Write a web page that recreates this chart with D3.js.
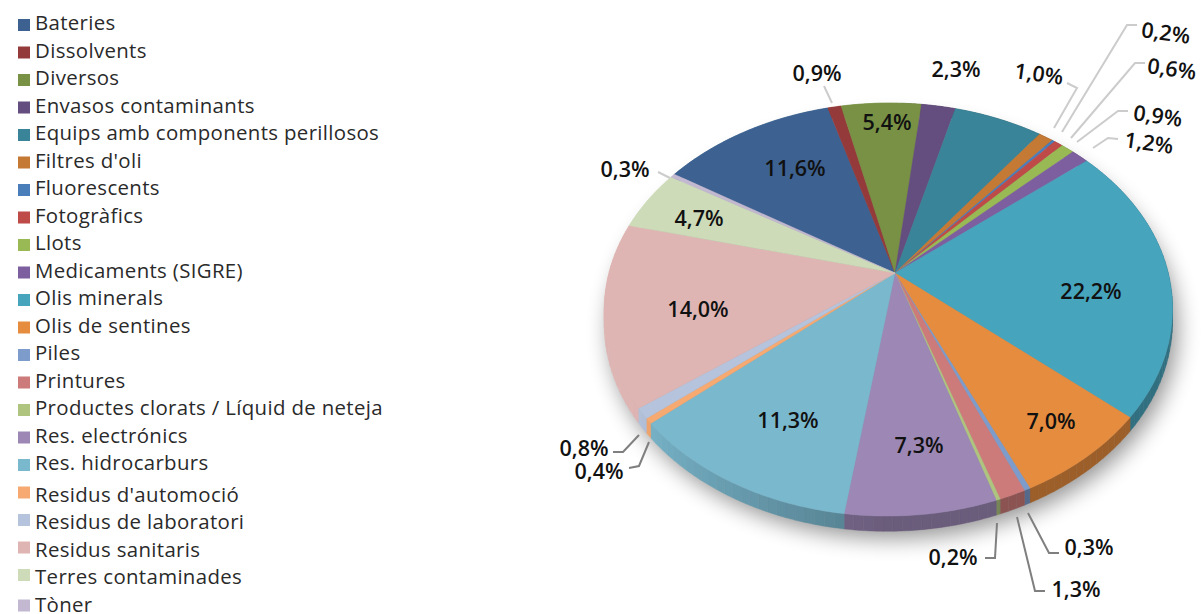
<!DOCTYPE html>
<html>
<head>
<meta charset="utf-8">
<script src="https://d3js.org/d3.v7.min.js"></script>
<style>
html, body { margin: 0; padding: 0; background: #fff; }
svg { display: block; font-family: "Open Sans", sans-serif; }
.legend-text { font-size: 20.4px; letter-spacing: 0.35px; fill: #2a2a2a; }
.pct { font-size: 21.5px; font-weight: 600; fill: #111; text-anchor: middle; dominant-baseline: central; }
.leader { fill: none; stroke-width: 2; }
</style>
</head>
<body>
<svg id="chart" width="1202" height="614"></svg>
<script>
// Waste shares, clockwise from Bateries
const categories = ['Bateries', 'Dissolvents', 'Diversos', 'Envasos contaminants', 'Equips amb components perillosos',
    "Filtres d'oli", 'Fluorescents', 'Fotogràfics', 'Llots', 'Medicaments (SIGRE)', 'Olis minerals', 'Olis de sentines',
    'Piles', 'Printures', 'Productes clorats / Líquid de neteja', 'Res. electrónics', 'Res. hidrocarburs',
    "Residus d'automoció", 'Residus de laboratori', 'Residus sanitaris', 'Terres contaminades', 'Tòner'];
const values = [11.6, 0.9, 5.4, 2.3, 6.1, 1.0, 0.2, 0.6, 0.9, 1.2, 22.2, 7.0, 0.3, 1.3, 0.2, 7.3, 11.3, 0.4, 0.8, 14.0, 4.7, 0.3];
const colors = ['#3d6291', '#953a3a', '#789144', '#644d7f', '#398498', '#c47935', '#4a7ebb', '#be4b48', '#98b954', '#7d5fa0',
    '#46a4bd', '#e68c3e', '#7d9ccb', '#cc7b7a', '#afc57f', '#9c87b5', '#7ab8ce', '#f6a971', '#b5c3dc', '#dfb5b4', '#cddbb8', '#c2b8d1'];
// Equips has no label in the source picture
const hiddenLabels = ['Equips amb components perillosos'];

// Annotation layout, same order as categories without the hidden one
const labelSpots = [
    { x: 795, y: 167 }, { x: 817, y: 72, line: [[832, 103], [824, 86]], c: '#ccc' }, { x: 887, y: 121 },
    { x: 956, y: 68 },
    { x: 1039, y: 73, r: 8, line: [[1054, 128], [1077, 88], [1067, 83]], c: '#ccc' },
    { x: 1166, y: 32, r: 8, line: [[1062, 132], [1127, 25], [1137, 25]], c: '#ccc' },
    { x: 1172, y: 68, r: 8, line: [[1071, 138], [1135, 63], [1145, 63]], c: '#ccc' },
    { x: 1158, y: 115, r: 8, line: [[1077, 142], [1118, 111], [1128, 111]], c: '#ccc' },
    { x: 1149, y: 142, r: 8, line: [[1093, 148], [1108, 138], [1118, 139]], c: '#ccc' },
    { x: 1091, y: 290 }, { x: 1051, y: 420 },
    { x: 1089, y: 546, line: [[1028, 513], [1049, 553], [1059, 553]], c: '#7f7f7f' },
    { x: 1076, y: 588, line: [[1017, 517], [1035, 591], [1045, 591]], c: '#7f7f7f' },
    { x: 953, y: 556, line: [[997, 523], [995, 558], [985, 558]], c: '#7f7f7f' },
    { x: 919, y: 444 }, { x: 788, y: 419 },
    { x: 599, y: 470, line: [[649, 442], [639, 466], [629, 468]], c: '#7f7f7f' },
    { x: 584, y: 447, line: [[639, 435], [623, 452], [613, 452]], c: '#7f7f7f' },
    { x: 698, y: 308 }, { x: 699, y: 217 },
    { x: 625, y: 168, line: [[670, 178], [658, 172]], c: '#ccc' }
];

const svg = d3.select('#chart');
const fmt = v => v.toFixed(1).replace('.', ',') + '%';

// Tilted pie: a unit circle pushed through a perspective projection
const apex = { x: 895, y: 273 };
const persp = { a: 279.5, b: 200, k: 0.177, m: -0.023 };
const wallHeight = 12.5;
const rad = Math.PI / 180;

function project(angle, extrude) {
    const x = Math.sin(angle), y = -Math.cos(angle);
    const d = 1 - persp.k * y - persp.m * x;
    return [apex.x + persp.a * x / d, apex.y + persp.b * y / d + (extrude ? wallHeight / d : 0)];
}

function rim(a0, a1, extrude) {
    const n = Math.max(2, Math.ceil((a1 - a0) / 0.01));
    return d3.range(n + 1).map(i => project(a0 + (a1 - a0) * i / n, extrude));
}

const pie = d3.pie().sort(null).value(d => d).startAngle(-58 * rad).endAngle(302 * rad);
const slices = pie(values);
const line = d3.line();

const defs = svg.append('defs');
defs.append('filter').attr('id', 'soft').attr('x', '-20%').attr('y', '-20%').attr('width', '140%').attr('height', '140%')
    .append('feGaussianBlur').attr('stdDeviation', 11);

// Shadow under the whole pie
svg.append('path')
    .attr('d', line(rim(0, 2 * Math.PI, true)) + 'Z')
    .attr('transform', 'translate(5,7)')
    .attr('fill', '#000')
    .attr('opacity', 0.42)
    .attr('filter', 'url(#soft)');

// Walls first, the top faces hide the back ones. The wall gets lighter towards the left side.
const wallShade = d3.scaleLinear().domain([180 * rad, 235 * rad]).range([0.68, 1]).clamp(true);
const wallStep = 0.03;
const wallBits = slices.flatMap((d, i) => {
    const n = Math.max(1, Math.ceil((d.endAngle - d.startAngle) / wallStep));
    return d3.range(n).map(j => ({
        a0: d.startAngle + (d.endAngle - d.startAngle) * j / n,
        a1: d.startAngle + (d.endAngle - d.startAngle) * (j + 1) / n,
        i
    }));
});
const shaded = d => {
    const c = d3.rgb(colors[d.i]);
    const f = wallShade((d.a0 + 2 * Math.PI) % (2 * Math.PI));
    return d3.rgb(c.r * f, c.g * f, c.b * f).formatHex();
};
svg.append('g').selectAll('path')
    .data(wallBits)
    .enter()
    .append('path')
    .attr('d', d => line(rim(d.a0, d.a1, false).concat(rim(d.a0, d.a1, true).reverse())) + 'Z')
    .attr('fill', shaded)
    .attr('stroke', shaded)
    .attr('stroke-width', 0.4);

svg.append('g').selectAll('path')
    .data(slices)
    .enter()
    .append('path')
    .attr('d', d => line([[apex.x, apex.y]].concat(rim(d.startAngle, d.endAngle, false))) + 'Z')
    .attr('fill', (d, i) => colors[i])
    .attr('stroke', (d, i) => colors[i])
    .attr('stroke-width', 0.4);

// Percent labels and their leaders
const shown = categories.map((c, i) => ({ c, v: values[i] })).filter(d => !hiddenLabels.includes(d.c));
const labels = svg.append('g');
shown.forEach((d, i) => {
    const s = labelSpots[i];
    if (s.line) {
        labels.append('path').attr('class', 'leader').attr('d', line(s.line)).attr('stroke', s.c);
    }
    labels.append('text')
        .attr('class', 'pct')
        .attr('x', s.x)
        .attr('y', s.y)
        .attr('transform', s.r ? `rotate(${s.r},${s.x},${s.y})` : null)
        .text(fmt(d.v));
});

// Legend, the last rows sit a little lower in the source
const legendRow = d3.scaleLinear().domain([0, 1]).range([30, 57.5]);
const legend = svg.append('g').selectAll('g')
    .data(categories)
    .enter()
    .append('g');
legend.append('rect')
    .attr('x', 18)
    .attr('y', (d, i) => legendRow(i) - 11 + (i === 21 ? 3 : 0))
    .attr('width', 12)
    .attr('height', 12)
    .attr('fill', (d, i) => colors[i]);
legend.append('text')
    .attr('class', 'legend-text')
    .attr('x', 35)
    .attr('y', (d, i) => legendRow(i) + (i >= 17 ? 4 : 0))
    .text(d => d);
</script>
</body>
</html>
